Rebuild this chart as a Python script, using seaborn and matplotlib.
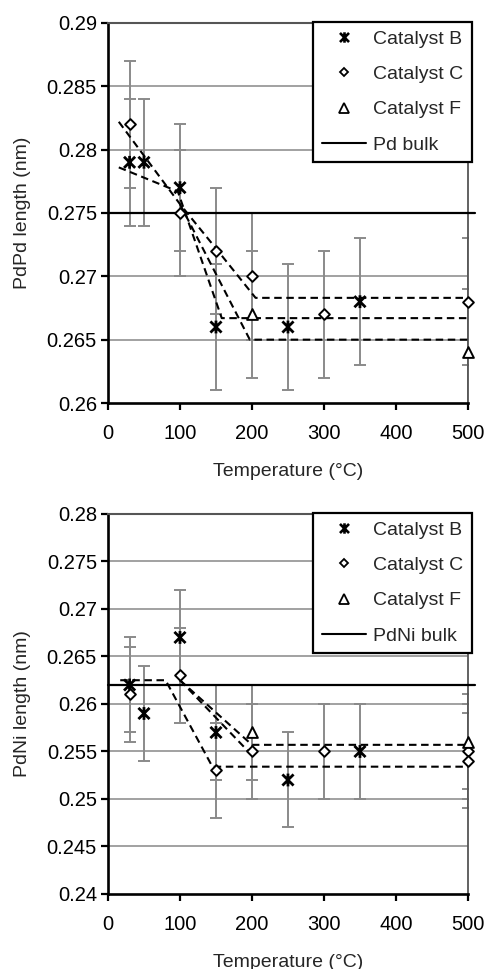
import matplotlib
matplotlib.use("Agg")
import matplotlib.pyplot as plt
from matplotlib.path import Path
from matplotlib.lines import Line2D
import seaborn as sns

# ---------------- data ----------------
# PdPd bond length (nm) vs temperature (°C)
pdpd_B_temp = [30, 50, 100, 150, 250, 350]
pdpd_B_len = [0.279, 0.279, 0.277, 0.266, 0.266, 0.268]
pdpd_C_temp = [30, 100, 150, 200, 300, 500]
pdpd_C_len = [0.282, 0.275, 0.272, 0.270, 0.267, 0.268]
pdpd_F_temp = [200, 500]
pdpd_F_len = [0.267, 0.264]
pdpd_err = 0.005
pd_bulk = 0.275

# trend guides, PdPd
pdpd_B_trend_t = [15, 97, 158, 500]
pdpd_B_trend_v = [0.2786, 0.2767, 0.2667, 0.2667]
pdpd_C_trend_t = [15, 100, 150, 205, 500]
pdpd_C_trend_v = [0.2822, 0.2757, 0.2722, 0.2683, 0.2683]
pdpd_F_trend_t = [100, 197, 500]
pdpd_F_trend_v = [0.2757, 0.2650, 0.2650]

# PdNi bond length (nm) vs temperature (°C)
pdni_B_temp = [30, 50, 100, 150, 250, 350]
pdni_B_len = [0.262, 0.259, 0.267, 0.257, 0.252, 0.255]
pdni_C_temp = [30, 100, 150, 200, 300, 500, 500]
pdni_C_len = [0.261, 0.263, 0.253, 0.255, 0.255, 0.255, 0.254]
pdni_F_temp = [200, 500]
pdni_F_len = [0.257, 0.256]
pdni_err = 0.005
pdni_bulk = 0.262

# trend guides, PdNi
pdni_C_trend_t = [17, 80, 145, 500]
pdni_C_trend_v = [0.2625, 0.2625, 0.2534, 0.2534]
pdni_B_trend_t = [100, 195]
pdni_B_trend_v = [0.2625, 0.2550]
pdni_F_trend_t = [100, 200, 500]
pdni_F_trend_v = [0.2625, 0.2557, 0.2557]

temp_ticks = [0, 100, 200, 300, 400, 500]
pdpd_ticks = [0.26, 0.265, 0.27, 0.275, 0.28, 0.285, 0.29]
pdpd_tick_labels = ["0.26", "0.265", "0.27", "0.275", "0.28", "0.285", "0.29"]
pdni_ticks = [0.24, 0.245, 0.25, 0.255, 0.26, 0.265, 0.27, 0.275, 0.28]
pdni_tick_labels = ["0.24", "0.245", "0.25", "0.255", "0.26", "0.265",
                    "0.27", "0.275", "0.28"]

# ---------------- style ----------------
sns.set_theme(style="white")
plt.rcParams["font.family"] = ["Liberation Sans", "DejaVu Sans"]

GRID = "#9a9a9a"
ERR = "#8a8a8a"

# asterisk marker: an X crossed by a vertical stroke
star_path = Path(
    [(-1, -1), (1, 1), (-1, 1), (1, -1), (0, -1.15), (0, 1.15)],
    [Path.MOVETO, Path.LINETO, Path.MOVETO, Path.LINETO, Path.MOVETO, Path.LINETO],
)

STYLE = {
    "B": dict(marker=star_path, s=85, lw=2.0, face="none"),
    "C": dict(marker="D", s=30, lw=1.4, face="white"),
    "F": dict(marker="^", s=60, lw=1.4, face="white"),
}


def draw_series(ax, t, v, err, key):
    st = STYLE[key]
    ax.errorbar(t, v, yerr=err, fmt="none", ecolor=ERR, elinewidth=1.4,
                capsize=4.5, capthick=1.4, zorder=2)
    sns.scatterplot(x=t, y=v, ax=ax, marker=st["marker"], s=st["s"],
                    color="black", facecolor=st["face"], edgecolor="black",
                    linewidth=st["lw"], zorder=5, legend=False, clip_on=False)


def draw_trend(ax, t, v):
    sns.lineplot(x=t, y=v, ax=ax, sort=False, color="black", lw=1.5,
                 linestyle=(0, (3.6, 2.2)), zorder=4, legend=False)


def style_axes(ax, ticks, tick_labels, ylabel, bulk, bulk_label):
    ax.set_xlim(0, 500)
    ax.set_ylim(ticks[0], ticks[-1])
    for yv in ticks[1:]:
        ax.axhline(yv, color=GRID, lw=1.3, zorder=1)
    ax.axhline(bulk, color="black", lw=1.6, zorder=3, xmax=1.02, clip_on=False)
    ax.set_xticks(temp_ticks)
    ax.set_xticklabels([str(t) for t in temp_ticks])
    ax.set_yticks(ticks)
    ax.set_yticklabels(tick_labels)
    ax.tick_params(axis="x", direction="out", length=5, width=1.6, pad=10,
                   labelsize=14.5, bottom=True, colors="black")
    ax.tick_params(axis="y", direction="out", length=5, width=1.6, pad=3,
                   labelsize=14.5, left=True, colors="black")
    for side in ("left", "bottom"):
        ax.spines[side].set_color("black")
        ax.spines[side].set_linewidth(1.9)
    ax.spines["top"].set_color("#555555")
    ax.spines["top"].set_linewidth(1.5)
    ax.spines["right"].set_color("#555555")
    ax.spines["right"].set_linewidth(1.3)
    ax.set_xlabel("Temperature (°C)", fontsize=14)
    ax.set_ylabel(ylabel, fontsize=14)
    ax.xaxis.set_label_coords(0.5, -0.157)
    ax.yaxis.set_label_coords(-0.215, 0.5)

    handles = [
        Line2D([], [], marker=star_path, linestyle="none", markersize=7.5,
               markerfacecolor="none", markeredgecolor="black", markeredgewidth=1.9),
        Line2D([], [], marker="D", linestyle="none", markersize=4.5,
               markerfacecolor="white", markeredgecolor="black", markeredgewidth=1.3),
        Line2D([], [], marker="^", linestyle="none", markersize=6.5,
               markerfacecolor="white", markeredgecolor="black", markeredgewidth=1.3),
        Line2D([], [], color="black", lw=1.5),
    ]
    labels = ["Catalyst B", "Catalyst C", "Catalyst F", bulk_label]
    leg = ax.legend(handles, labels, loc="upper right",
                    bbox_to_anchor=(1.011, 1.003), frameon=True, fancybox=False,
                    edgecolor="black", framealpha=1, fontsize=14,
                    handlelength=2.3, handletextpad=0.35, labelspacing=0.9,
                    borderpad=0.45, borderaxespad=0)
    leg.get_frame().set_linewidth(1.6)
    leg.set_zorder(10)


fig = plt.figure(figsize=(4.86, 9.69), dpi=100)
ax_top = fig.add_axes([0.2222, 0.5841, 0.7407, 0.3922])
ax_bot = fig.add_axes([0.2222, 0.0774, 0.7407, 0.3922])

# PdPd panel
draw_trend(ax_top, pdpd_B_trend_t, pdpd_B_trend_v)
draw_trend(ax_top, pdpd_C_trend_t, pdpd_C_trend_v)
draw_trend(ax_top, pdpd_F_trend_t, pdpd_F_trend_v)
draw_series(ax_top, pdpd_B_temp, pdpd_B_len, pdpd_err, "B")
draw_series(ax_top, pdpd_C_temp, pdpd_C_len, pdpd_err, "C")
draw_series(ax_top, pdpd_F_temp, pdpd_F_len, pdpd_err, "F")
style_axes(ax_top, pdpd_ticks, pdpd_tick_labels, "PdPd length (nm)", pd_bulk, "Pd bulk")

# PdNi panel
draw_trend(ax_bot, pdni_C_trend_t, pdni_C_trend_v)
draw_trend(ax_bot, pdni_B_trend_t, pdni_B_trend_v)
draw_trend(ax_bot, pdni_F_trend_t, pdni_F_trend_v)
draw_series(ax_bot, pdni_B_temp, pdni_B_len, pdni_err, "B")
draw_series(ax_bot, pdni_C_temp, pdni_C_len, pdni_err, "C")
draw_series(ax_bot, pdni_F_temp, pdni_F_len, pdni_err, "F")
style_axes(ax_bot, pdni_ticks, pdni_tick_labels, "PdNi length (nm)", pdni_bulk, "PdNi bulk")

fig.savefig("out.png", dpi=100)
